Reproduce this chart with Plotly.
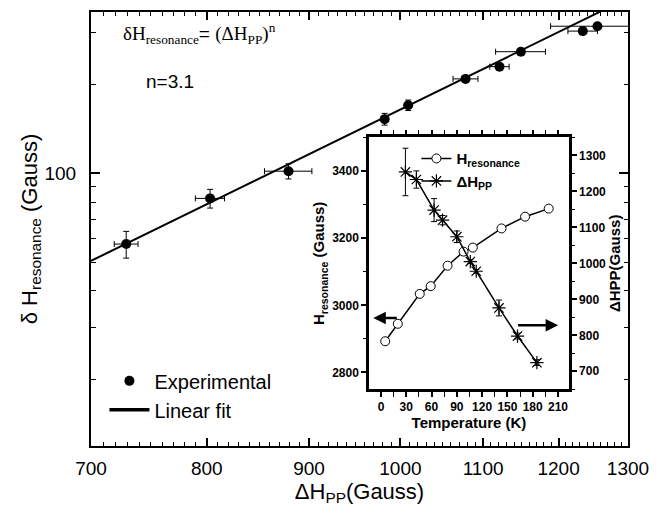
import plotly.graph_objects as go
import math

# ---- main plot data (log-log) ----
dhpp = [729, 803, 879, 982, 1009, 1078, 1121, 1149, 1234, 1255]
dhres = [57.6, 82.3, 101.8, 152.9, 170.5, 209.4, 230.4, 259, 304.2, 316]
dhpp_err = [10, 13.5, 24, 0, 0, 15.5, 12.5, 33, 21, 66]
dhres_err = [6, 6, 6, 7, 7, 0, 0, 0, 0, 0]
fit_x = [700, 1300]
fit_y = [50.5, 394]

main_xticks = [700, 800, 900, 1000, 1100, 1200, 1300]
main_xminor = [v for v in range(710, 1300, 10) if v % 100 != 0]
main_yticks = [100]
main_yminor = [20, 30, 40, 50, 60, 70, 80, 90, 200, 300]

# ---- inset data ----
t_res = [5, 20, 46, 59, 79, 98, 109, 143, 171, 199]
h_res = [2893, 2945, 3034, 3057, 3118, 3160, 3172, 3229, 3264, 3288]
h_res_err = [4, 4, 4, 4, 4, 4, 4, 4, 4, 4]
t_pp = [29, 42, 63, 73, 90, 106, 113, 140, 162, 185]
hpp_t = [1254, 1233, 1148, 1120, 1074, 1005, 978, 876, 798, 724]
hpp_t_err = [66, 24, 32, 13, 16, 5, 5, 22, 8, 8]

SANS = "Liberation Sans"
SERIF = "Liberation Serif"

fig = go.Figure()

fig.add_trace(go.Scatter(
    x=fit_x, y=fit_y, mode="lines", name="Linear fit",
    line=dict(color="black", width=2), showlegend=False,
    xaxis="x", yaxis="y"))
fig.add_trace(go.Scatter(
    x=dhpp, y=dhres, mode="markers", name="Experimental",
    marker=dict(color="black", size=10), legendrank=1,
    error_x=dict(type="data", array=dhpp_err, color="black", thickness=1, width=3),
    error_y=dict(type="data", array=dhres_err, color="black", thickness=1, width=3),
    xaxis="x", yaxis="y", legend="legend"))
# legend entry for the fit line (thicker symbol as in the original legend)
fig.add_trace(go.Scatter(
    x=[None], y=[None], mode="lines", name="Linear fit",
    line=dict(color="black", width=3.5), legendrank=2,
    xaxis="x", yaxis="y", legend="legend"))

fig.add_trace(go.Scatter(
    x=t_res, y=h_res, mode="lines+markers", name="H<sub>resonance</sub>",
    line=dict(color="black", width=1.5),
    marker=dict(symbol="circle", size=9, color="white", line=dict(color="black", width=1)),
    error_y=dict(type="data", array=h_res_err, color="black", thickness=1, width=3),
    xaxis="x2", yaxis="y2", legend="legend2"))
fig.add_trace(go.Scatter(
    x=t_pp, y=hpp_t, mode="lines+markers", name="ΔH<sub>PP</sub>",
    line=dict(color="black", width=1.5),
    marker=dict(symbol="asterisk-open", size=11, color="black", line=dict(color="black", width=1.2)),
    error_y=dict(type="data", array=hpp_t_err, color="black", thickness=1, width=3),
    xaxis="x2", yaxis="y3", legend="legend2"))

axis_common = dict(showgrid=False, zeroline=False, showline=True, linecolor="black")

fig.update_layout(
    width=663, height=513,
    margin=dict(l=91, r=35, t=10, b=67),
    paper_bgcolor="white", plot_bgcolor="white",
    font=dict(family=SANS, color="black"),
    xaxis=dict(
        **axis_common, type="log", linewidth=2,
        range=[math.log10(700), math.log10(1300)],
        tickmode="array", tickvals=main_xticks, ticktext=[str(v) for v in main_xticks],
        ticks="inside", ticklen=8, tickwidth=1.5, tickcolor="black", mirror="allticks",
        minor=dict(tickmode="array", tickvals=main_xminor, ticks="inside", ticklen=4, tickwidth=1.2, tickcolor="black"),
        tickfont=dict(size=19, family=SANS),
        ticklabelstandoff=4,
        title=dict(text="ΔH<sub>PP</sub>(Gauss)", font=dict(size=22, family=SANS), standoff=3),
        domain=[0, 1], anchor="y"),
    yaxis=dict(
        **axis_common, type="log", linewidth=2,
        range=[1.075, 2.548],
        tickmode="array", tickvals=main_yticks, ticktext=["100"],
        ticks="inside", ticklen=9, tickwidth=1.5, tickcolor="black", mirror="allticks",
        minor=dict(tickmode="array", tickvals=main_yminor, ticks="inside", ticklen=4.5, tickwidth=1.2, tickcolor="black"),
        tickfont=dict(size=19, family=SANS),
        ticklabelstandoff=9,
        title=dict(text="δ H<sub>resonance</sub> (Gauss)", font=dict(size=22, family=SANS), standoff=0),
        domain=[0, 1], anchor="x"),
    xaxis2=dict(
        **axis_common, linewidth=2.5, domain=[0.5177, 0.890], anchor="y2",
        range=[-14.2, 223], tickmode="array", tickvals=[0, 30, 60, 90, 120, 150, 180, 210],
        ticks="outside", ticklen=5, tickwidth=1.5, tickcolor="black", mirror="allticks",
        minor=dict(dtick=15, tick0=0, ticks="outside", ticklen=3, tickwidth=1.2, tickcolor="black"),
        tickfont=dict(size=12, family=SANS, weight="bold"),
        title=dict(text="Temperature (K)", font=dict(size=15, family=SANS, weight="bold"), standoff=2)),
    yaxis2=dict(
        **axis_common, linewidth=2.5, domain=[0.1307, 0.711], anchor="x2",
        range=[2750, 3500], tickmode="array", tickvals=[2800, 3000, 3200, 3400],
        ticks="outside", ticklen=5, tickwidth=1.5, tickcolor="black",
        minor=dict(dtick=100, tick0=2800, ticks="outside", ticklen=3, tickwidth=1.2, tickcolor="black"),
        tickfont=dict(size=12, family=SANS, weight="bold"),
        title=dict(text="H<sub>resonance</sub> (Gauss)", font=dict(size=15, family=SANS, weight="bold"), standoff=4)),
    yaxis3=dict(
        **axis_common, linewidth=2.5, overlaying="y2", side="right", anchor="x2",
        range=[650, 1350], tickmode="array", tickvals=[700, 800, 900, 1000, 1100, 1200, 1300],
        ticks="outside", ticklen=5, tickwidth=1.5, tickcolor="black",
        minor=dict(dtick=50, tick0=700, ticks="outside", ticklen=3, tickwidth=1.2, tickcolor="black"),
        tickfont=dict(size=12, family=SANS, weight="bold"),
        title=dict(text="ΔHPP(Gauss)", font=dict(size=15, family=SANS, weight="bold"), standoff=4)),
    legend=dict(
        x=0.025, y=0.195, xanchor="left", yanchor="top",
        font=dict(size=20, family=SANS), bgcolor="rgba(0,0,0,0)",
        tracegroupgap=0, itemwidth=40),
    legend2=dict(
        x=0.606, y=0.70, xanchor="left", yanchor="top",
        font=dict(size=15, family=SANS, weight="bold"), bgcolor="rgba(0,0,0,0)",
        tracegroupgap=0, itemwidth=30),
    showlegend=True,
)

fig.add_annotation(
    xref="paper", yref="paper", x=0.055, y=0.95, xanchor="left", yanchor="middle",
    showarrow=False,
    text="δH<sub>resonance</sub><span style='font-family:Liberation Sans'>= </span>(ΔH<sub>PP</sub>)<sup>n</sup>",
    font=dict(size=19, family=SERIF))
fig.add_annotation(
    xref="paper", yref="paper", x=0.0987, y=0.8394, xanchor="left", yanchor="middle",
    showarrow=False, text="n=3.1", font=dict(size=19, family=SANS))

fig.add_annotation(
    xref="x2", yref="y2", x=-9.1, y=2962, axref="x2", ayref="y2", ax=20.5, ay=2962,
    showarrow=True, arrowhead=2, arrowsize=1, arrowwidth=2.5, arrowcolor="black", text="")
fig.add_annotation(
    xref="x2", yref="y3", x=210.2, y=827.7, axref="x2", ayref="y3", ax=160.9, ay=827.7,
    showarrow=True, arrowhead=2, arrowsize=1, arrowwidth=2.5, arrowcolor="black", text="")

fig.write_html("out.html", config={"displayModeBar": False},
               post_script="document.body.style.margin='0px';")
